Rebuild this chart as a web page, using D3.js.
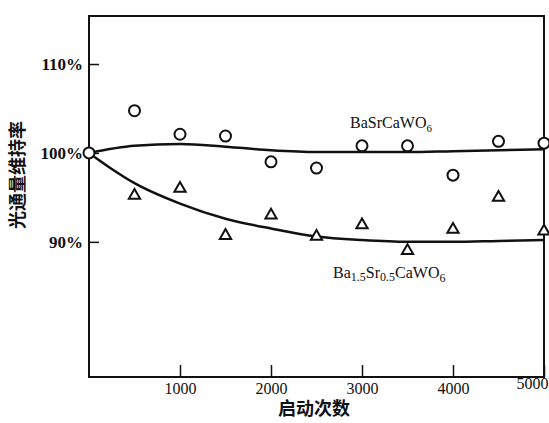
<!DOCTYPE html>
<html>
<head>
<meta charset="utf-8">
<script src="https://cdn.jsdelivr.net/npm/d3@7"></script>
<style>
  body { margin: 0; background: #fff; }
  text { font-family: "Liberation Serif", "DejaVu Serif", serif; fill: #111; }
  .cjk { font-family: "Noto Sans CJK SC", sans-serif; font-weight: bold; }
</style>
</head>
<body>
<div id="chart"></div>
<script>
var width = 549,
  height = 423;

// starts (x) and luminous flux maintenance (%)
var circleCycles = [0, 500, 1000, 1500, 2000, 2500, 3000, 3500, 4000, 4500, 5000];
var circleValues = [100, 104.75, 102.1, 101.9, 99.0, 98.3, 100.8, 100.8, 97.5, 101.3, 101.1];

var triCycles = [500, 1000, 1500, 2000, 2500, 3000, 3500, 4000, 4500, 5000];
var triValues = [95.2, 96.0, 90.7, 93.0, 90.6, 91.9, 89.0, 91.4, 95.0, 91.2];

// hand drawn trend curves
var upperCurveX = [0, 500, 1000, 1500, 2000, 2500, 3000, 3500, 4000, 4500, 5000];
var upperCurveY = [100, 100.8, 101.0, 100.7, 100.3, 100.1, 100.1, 100.1, 100.2, 100.3, 100.4];
var lowerCurveX = [0, 250, 500, 1000, 1500, 2000, 2500, 3000, 3500, 4000, 4500, 5000];
var lowerCurveY = [100, 98.2, 96.6, 94.3, 92.6, 91.5, 90.6, 90.2, 90.0, 90.0, 90.1, 90.2];

var xTicks = [1000, 2000, 3000, 4000, 5000];
var yTicks = [90, 100, 110];

var x = d3.scaleLinear().domain([0, 5000]).range([89, 544]);
var y = d3.scaleLinear().domain([74.8, 115.4]).range([377, 16]);

var svg = d3.select("#chart").append("svg")
  .attr("width", width)
  .attr("height", height);

// frame
svg.append("rect")
  .attr("x", x(0))
  .attr("y", y(115.4))
  .attr("width", x(5000) - x(0))
  .attr("height", y(74.8) - y(115.4))
  .attr("fill", "none")
  .attr("stroke", "#111")
  .attr("stroke-width", 2);

var xAxis = svg.append("g")
  .attr("transform", "translate(0," + y(74.8) + ")")
  .call(d3.axisBottom(x).tickValues(xTicks).tickSizeInner(-12).tickSizeOuter(0).tickPadding(6).tickFormat(d3.format("d")));
xAxis.select(".domain").remove();
xAxis.selectAll("line").attr("stroke", "#111").attr("stroke-width", 1.5);
xAxis.selectAll("text").attr("font-size", 16).attr("font-family", "Liberation Serif").attr("fill", "#111");
// last label sits flush with the right edge
xAxis.selectAll("text").filter(function(d) { return d === 5000; })
  .attr("text-anchor", "end")
  .attr("dx", 4)
  .attr("dy", "0.4em");

var yAxis = svg.append("g")
  .attr("transform", "translate(" + x(0) + ",0)")
  .call(d3.axisLeft(y).tickValues(yTicks).tickSizeInner(-10).tickSizeOuter(0).tickPadding(6).tickFormat(function(d) { return d + "%"; }));
yAxis.select(".domain").remove();
yAxis.selectAll("line").attr("stroke", "#111").attr("stroke-width", 1.5);
yAxis.selectAll("text").attr("font-size", 17).attr("font-weight", "bold").attr("font-family", "Liberation Serif").attr("fill", "#111");

var line = d3.line()
  .x(function(d) { return x(d[0]); })
  .y(function(d) { return y(d[1]); })
  .curve(d3.curveMonotoneX);

svg.append("path")
  .datum(d3.zip(upperCurveX, upperCurveY))
  .attr("fill", "none")
  .attr("stroke", "#111")
  .attr("stroke-width", 2.5)
  .attr("d", line);

svg.append("path")
  .datum(d3.zip(lowerCurveX, lowerCurveY))
  .attr("fill", "none")
  .attr("stroke", "#111")
  .attr("stroke-width", 2.5)
  .attr("d", line);

svg.selectAll(".tri")
  .data(d3.zip(triCycles, triValues))
  .enter().append("path")
    .attr("class", "tri")
    .attr("transform", function(d) { return "translate(" + x(d[0]) + "," + y(d[1]) + ")"; })
    .attr("d", d3.symbol().type(d3.symbolTriangle).size(55))
    .attr("fill", "#fff")
    .attr("stroke", "#111")
    .attr("stroke-width", 2);

svg.selectAll(".dot")
  .data(d3.zip(circleCycles, circleValues))
  .enter().append("circle")
    .attr("class", "dot")
    .attr("cx", function(d) { return x(d[0]); })
    .attr("cy", function(d) { return y(d[1]); })
    .attr("r", 5.5)
    .attr("fill", "#fff")
    .attr("stroke", "#111")
    .attr("stroke-width", 2);

// series labels
var lab1 = svg.append("text")
  .attr("x", 350)
  .attr("y", 128)
  .attr("font-size", 16);
lab1.append("tspan").text("BaSrCaWO");
lab1.append("tspan").attr("dy", 4).attr("font-size", 11).text("6");

var lab2 = svg.append("text")
  .attr("x", 333)
  .attr("y", 278)
  .attr("font-size", 16);
lab2.append("tspan").text("Ba");
lab2.append("tspan").attr("dy", 3).attr("font-size", 12).text("1.5");
lab2.append("tspan").attr("dy", -3).text("Sr");
lab2.append("tspan").attr("dy", 3).attr("font-size", 12).text("0.5");
lab2.append("tspan").attr("dy", -3).text("CaWO");
lab2.append("tspan").attr("dy", 4).attr("font-size", 12).text("6");

// axis titles
svg.append("text")
  .attr("class", "cjk")
  .attr("transform", "translate(24,175) rotate(-90)")
  .attr("text-anchor", "middle")
  .attr("font-size", 18)
  .text("光通量维持率");

svg.append("text")
  .attr("class", "cjk")
  .attr("x", 314)
  .attr("y", 415)
  .attr("text-anchor", "middle")
  .attr("font-size", 18)
  .attr("font-weight", "normal")
  .text("启动次数");
</script>
</body>
</html>
